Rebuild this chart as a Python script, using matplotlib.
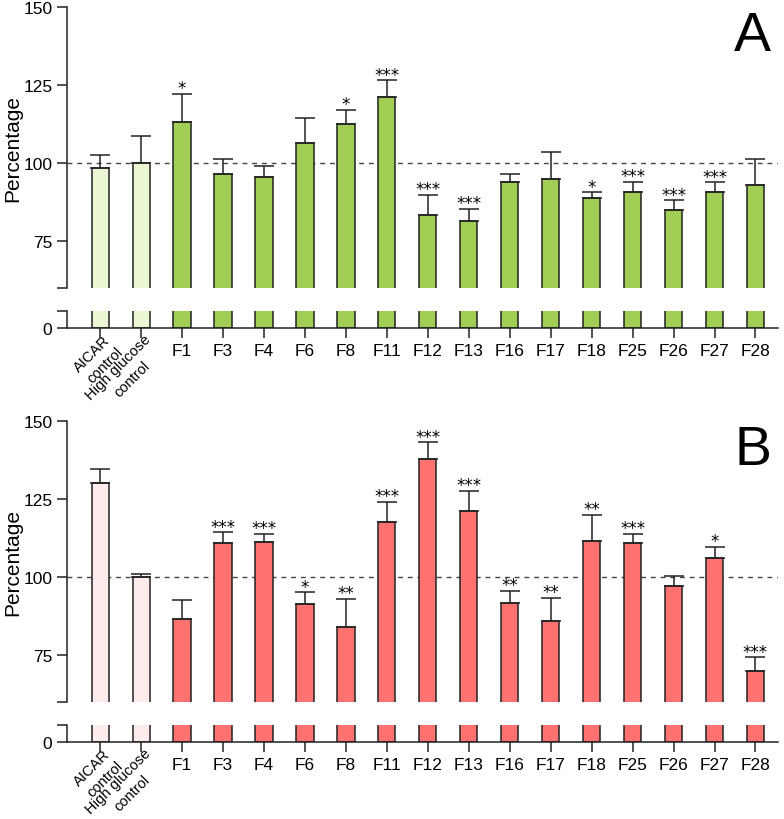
import numpy as np
import matplotlib
matplotlib.use('Agg')
import matplotlib.pyplot as plt
from matplotlib.textpath import TextPath
from matplotlib.font_manager import FontProperties

plt.rcParams['font.family'] = ['Liberation Sans', 'DejaVu Sans']

# Подписи по оси X
labels = ['AICAR\ncontrol', 'High glucose\ncontrol', 'F1', 'F3', 'F4', 'F6', 'F8', 'F11',
          'F12', 'F13', 'F16', 'F17', 'F18', 'F25', 'F26', 'F27', 'F28']

# Панель A: среднее и верх планки ошибки
mean_a = [98.4, 100.0, 113.1, 96.6, 95.5, 106.6, 112.6, 121.3, 83.4, 81.4, 94.1,
          94.8, 88.9, 90.9, 84.9, 90.9, 92.9]
err_a = [102.6, 108.7, 122.1, 101.4, 99.1, 114.6, 117.0, 126.5, 89.9, 85.3, 96.5,
         103.6, 90.6, 94.0, 88.1, 93.8, 101.3]
stars_a = ['', '', '*', '', '', '', '*', '***', '***', '***', '', '', '*', '***',
           '***', '***', '']

# Панель B
mean_b = [130.3, 100.0, 86.5, 110.8, 111.3, 91.4, 84.1, 117.5, 137.9, 121.1, 91.7,
          86.0, 111.5, 111.0, 97.2, 106.0, 69.9]
err_b = [134.6, 101.1, 92.7, 114.3, 113.8, 95.1, 93.0, 124.1, 143.2, 127.6, 95.7,
         93.3, 119.9, 113.8, 100.4, 109.7, 74.3]
stars_b = ['', '', '', '***', '***', '*', '**', '***', '***', '***', '**', '**',
           '**', '***', '', '*', '***']

W, H = 784, 820
fig = plt.figure(figsize=(W / 100, H / 100), dpi=100)

x = np.arange(len(labels))
edge = '#222222'
rot_fs = 10.5
fp = FontProperties(family='Liberation Sans')


def px_rect(left, top, right, bottom):
    return [left / W, 1 - bottom / H, (right - left) / W, (bottom - top) / H]


def rotated_label(ax, xi, text):
    # двухстрочная подпись под 45°, строки отдельно, вторая по центру первой
    line1, line2 = text.split('\n')
    dx, dy = 2, -3
    ax.annotate(line1, (xi, 0), xytext=(dx, dy), textcoords='offset points',
                rotation=45, ha='right', va='top', rotation_mode='anchor', fontsize=rot_fs)
    L = TextPath((0, 0), line1, size=rot_fs, prop=fp).get_extents().width
    c = np.sqrt(0.5)
    lh = 1.2 * rot_fs
    ox = dx - L / 2 * c + lh * c
    oy = dy - L / 2 * c - lh * c
    ax.annotate(line2, (xi, 0), xytext=(ox, oy), textcoords='offset points',
                rotation=45, ha='center', va='top', rotation_mode='anchor', fontsize=rot_fs)


def panel(top_px, mean, err, stars, c_ctrl, c_main, letter):
    # верхняя часть (60-150) и нижняя часть (0-5) разорванной оси
    ax_t = fig.add_axes(px_rect(67, top_px, 778, top_px + 281))
    ax_b = fig.add_axes(px_rect(67, top_px + 304, 778, top_px + 321))
    colors = [c_ctrl, c_ctrl] + [c_main] * (len(mean) - 2)
    mean = np.array(mean)
    err = np.array(err)
    for ax in (ax_t, ax_b):
        ax.bar(x, mean, width=0.42, color=colors, edgecolor=edge, linewidth=1.1, zorder=2)
        ax.set_xlim(-0.81, 16.55)
        ax.spines['top'].set_visible(False)
        ax.spines['right'].set_visible(False)
        for s in ax.spines.values():
            s.set_color(edge)
            s.set_linewidth(1.1)
        ax.tick_params(axis='both', colors=edge, length=7, width=1.1, labelsize=12.5,
                       labelcolor='black')
    ax_t.errorbar(x, mean, yerr=[np.zeros_like(mean), err - mean], fmt='none',
                  ecolor=edge, elinewidth=1.1, capsize=7, capthick=1.1, zorder=3)
    ax_t.axhline(100, color='#444444', ls=(0, (3.5, 3.5)), lw=1, zorder=1)
    ax_t.set_ylim(60, 150)
    ax_t.set_yticks([60, 75, 100, 125, 150])
    ax_t.set_yticklabels(['', '75', '100', '125', '150'])
    ax_t.spines['bottom'].set_visible(False)
    ax_t.tick_params(axis='x', bottom=False, labelbottom=False)
    ax_t.set_ylabel('Percentage', fontsize=15)
    ax_t.yaxis.set_label_coords(-0.063, 0.5)

    ax_b.set_ylim(0, 5.3)
    ax_b.set_yticks([0, 5.3])
    ax_b.set_yticklabels(['0', ''])
    ax_b.set_xticks(x)
    ax_b.set_xticklabels([''] * 2 + labels[2:])
    for i in range(2):
        rotated_label(ax_b, x[i], labels[i])

    for xi, e, s in zip(x, err, stars):
        if s:
            ax_t.annotate(s, (xi, e), xytext=(0, 0.5), textcoords='offset points',
                          ha='center', va='baseline', fontsize=12,
                          family='DejaVu Sans')
    ax_t.text(0.99, 0.99, letter, transform=ax_t.transAxes, ha='right', va='top',
              fontsize=40)


panel(8, mean_a, err_a, stars_a, '#ebf6d4', '#a1cf55', 'A')
panel(422, mean_b, err_b, stars_b, '#fdeceb', '#ff7270', 'B')

fig.savefig('out.png', dpi=100)
